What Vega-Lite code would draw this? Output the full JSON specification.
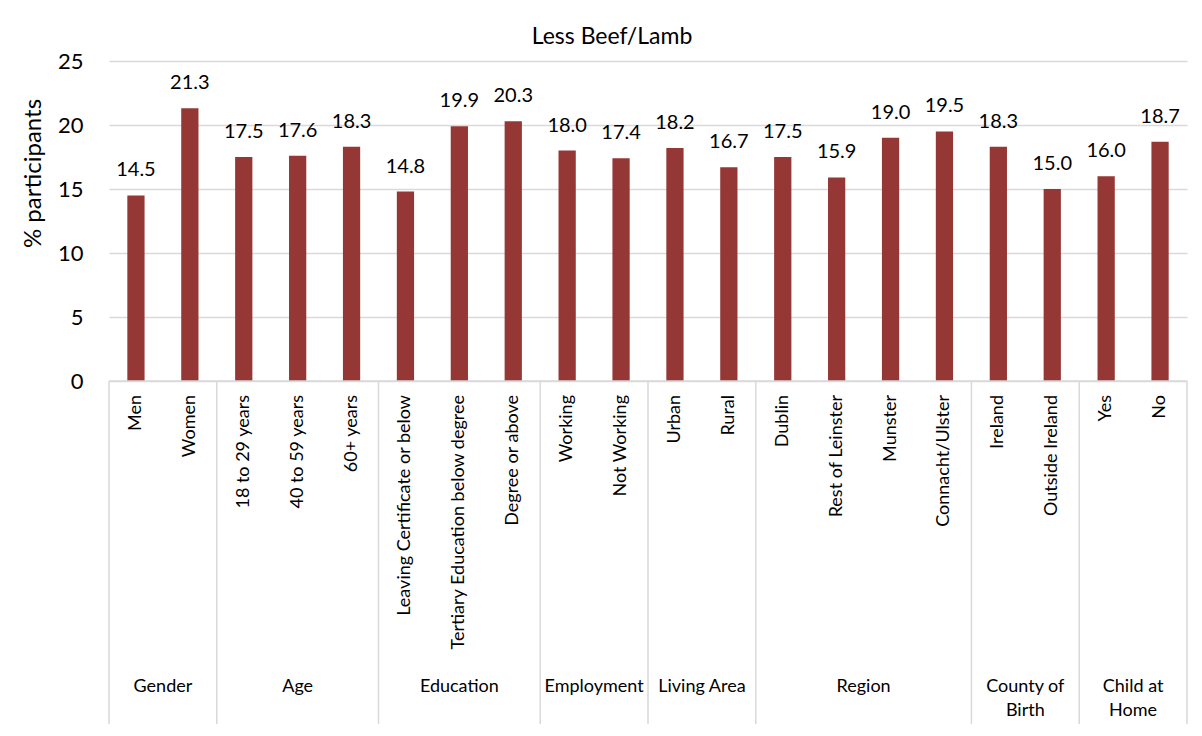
{
  "$schema": "https://vega.github.io/schema/vega-lite/v6.json",
  "autosize": {"type": "pad"},
  "padding": {"left": 21, "top": 26, "right": 0, "bottom": 0},
  "background": "white",
  "bounds": "flush",
  "config": {
    "font": "Lato",
    "view": {"stroke": null},
    "concat": {"spacing": 0},
    "title": {"fontWeight": "normal", "color": "#000000"}
  },
  "title": {"text": "Less Beef/Lamb", "fontSize": 23, "anchor": "middle", "frame": "group", "dx": -36, "offset": 1},
  "datasets": {
    "bars": [
      {"group": "Gender", "label": "Men", "value": 14.5},
      {"group": "Gender", "label": "Women", "value": 21.3},
      {"group": "Age", "label": "18 to 29 years", "value": 17.5},
      {"group": "Age", "label": "40 to 59 years", "value": 17.6},
      {"group": "Age", "label": "60+ years", "value": 18.3},
      {"group": "Education", "label": "Leaving Certificate or below", "value": 14.8},
      {"group": "Education", "label": "Tertiary Education below degree", "value": 19.9},
      {"group": "Education", "label": "Degree or above", "value": 20.3},
      {"group": "Employment", "label": "Working", "value": 18.0},
      {"group": "Employment", "label": "Not Working", "value": 17.4},
      {"group": "Living Area", "label": "Urban", "value": 18.2},
      {"group": "Living Area", "label": "Rural", "value": 16.7},
      {"group": "Region", "label": "Dublin", "value": 17.5},
      {"group": "Region", "label": "Rest of Leinster", "value": 15.9},
      {"group": "Region", "label": "Munster", "value": 19.0},
      {"group": "Region", "label": "Connacht/Ulster", "value": 19.5},
      {"group": "County of Birth", "label": "Ireland", "value": 18.3},
      {"group": "County of Birth", "label": "Outside Ireland", "value": 15.0},
      {"group": "Child at Home", "label": "Yes", "value": 16.0},
      {"group": "Child at Home", "label": "No", "value": 18.7}
    ],
    "groups": [
      {"group": "Gender", "name": "Gender", "first": "Men", "last": "Women", "mid": "Men", "size": 2},
      {"group": "Age", "name": "Age", "first": "18 to 29 years", "last": "60+ years", "mid": "40 to 59 years", "size": 3},
      {"group": "Education", "name": "Education", "first": "Leaving Certificate or below", "last": "Degree or above", "mid": "Tertiary Education below degree", "size": 3},
      {"group": "Employment", "name": "Employment", "first": "Working", "last": "Not Working", "mid": "Working", "size": 2},
      {"group": "Living Area", "name": "Living Area", "first": "Urban", "last": "Rural", "mid": "Urban", "size": 2},
      {"group": "Region", "name": "Region", "first": "Dublin", "last": "Connacht/Ulster", "mid": "Rest of Leinster", "size": 4},
      {"group": "County of Birth", "name": "County of\nBirth", "first": "Ireland", "last": "Outside Ireland", "mid": "Ireland", "size": 2},
      {"group": "Child at Home", "name": "Child at\nHome", "first": "Yes", "last": "No", "mid": "Yes", "size": 2}
    ]
  },
  "resolve": {"scale": {"x": "shared"}},
  "vconcat": [
    {
      "width": 1078,
      "height": 320,
      "data": {"name": "bars"},
      "encoding": {
        "x": {
          "field": "label", "type": "nominal",
          "scale": {
            "domain": ["Men", "Women", "18 to 29 years", "40 to 59 years", "60+ years", "Leaving Certificate or below", "Tertiary Education below degree", "Degree or above", "Working", "Not Working", "Urban", "Rural", "Dublin", "Rest of Leinster", "Munster", "Connacht/Ulster", "Ireland", "Outside Ireland", "Yes", "No"],
            "paddingInner": 0, "paddingOuter": 0
          },
          "axis": null
        },
        "y": {
          "field": "value", "type": "quantitative",
          "scale": {"domain": [0, 25]},
          "axis": {
            "values": [0, 5, 10, 15, 20, 25],
            "title": "% participants",
            "titleFontSize": 24, "titleFontWeight": "normal", "titleColor": "#000000",
            "titlePadding": 12, "titleY": 112,
            "labelFontSize": 22, "labelColor": "#000000", "labelPadding": 26,
            "ticks": false, "domain": false,
            "gridColor": "#d9d9d9", "gridWidth": 1.5
          }
        }
      },
      "layer": [
        {"mark": {"type": "bar", "color": "#953735", "width": {"band": 0.32}}},
        {
          "mark": {"type": "text", "fontSize": 20, "color": "#000000", "baseline": "alphabetic", "dy": -19},
          "encoding": {"text": {"field": "value", "type": "quantitative", "format": ".1f"}}
        }
      ]
    },
    {
      "width": 1078,
      "height": 343,
      "layer": [
        {
          "data": {"name": "bars"},
          "mark": {"type": "text", "fontSize": 18, "color": "#000000", "angle": 270, "align": "right", "baseline": "middle", "dx": -14},
          "encoding": {
            "x": {"field": "label", "type": "nominal", "axis": null},
            "y": {"datum": 1, "type": "quantitative", "scale": {"domain": [0, 1]}, "axis": null},
            "text": {"field": "label"}
          }
        },
        {
          "data": {"values": [{"edge": "top"}]},
          "mark": {"type": "rule", "color": "#d9d9d9", "strokeWidth": 1.5},
          "encoding": {
            "y": {"datum": 1, "type": "quantitative"}
          }
        },
        {
          "data": {"name": "groups"},
          "mark": {"type": "rule", "color": "#d9d9d9", "strokeWidth": 1.5},
          "encoding": {
            "x": {"field": "first", "type": "nominal", "bandPosition": 0}
          }
        },
        {
          "data": {"name": "groups"},
          "transform": [{"filter": "datum.group === 'Child at Home'"}],
          "mark": {"type": "rule", "color": "#d9d9d9", "strokeWidth": 1.5},
          "encoding": {
            "x": {"field": "last", "type": "nominal", "bandPosition": 1}
          }
        },
        {
          "data": {"name": "groups"},
          "transform": [{"filter": "datum.size % 2 === 1"}],
          "mark": {"type": "text", "fontSize": 18, "color": "#000000", "baseline": "top", "align": "center", "lineBreak": "\n", "lineHeight": 24},
          "encoding": {
            "x": {"field": "mid", "type": "nominal", "bandPosition": 0.5},
            "y": {"datum": 0.135, "type": "quantitative"},
            "text": {"field": "name"}
          }
        },
        {
          "data": {"name": "groups"},
          "transform": [{"filter": "datum.size % 2 === 0"}],
          "mark": {"type": "text", "fontSize": 18, "color": "#000000", "baseline": "top", "align": "center", "lineBreak": "\n", "lineHeight": 24},
          "encoding": {
            "x": {"field": "mid", "type": "nominal", "bandPosition": 1},
            "y": {"datum": 0.135, "type": "quantitative"},
            "text": {"field": "name"}
          }
        }
      ]
    }
  ]
}
